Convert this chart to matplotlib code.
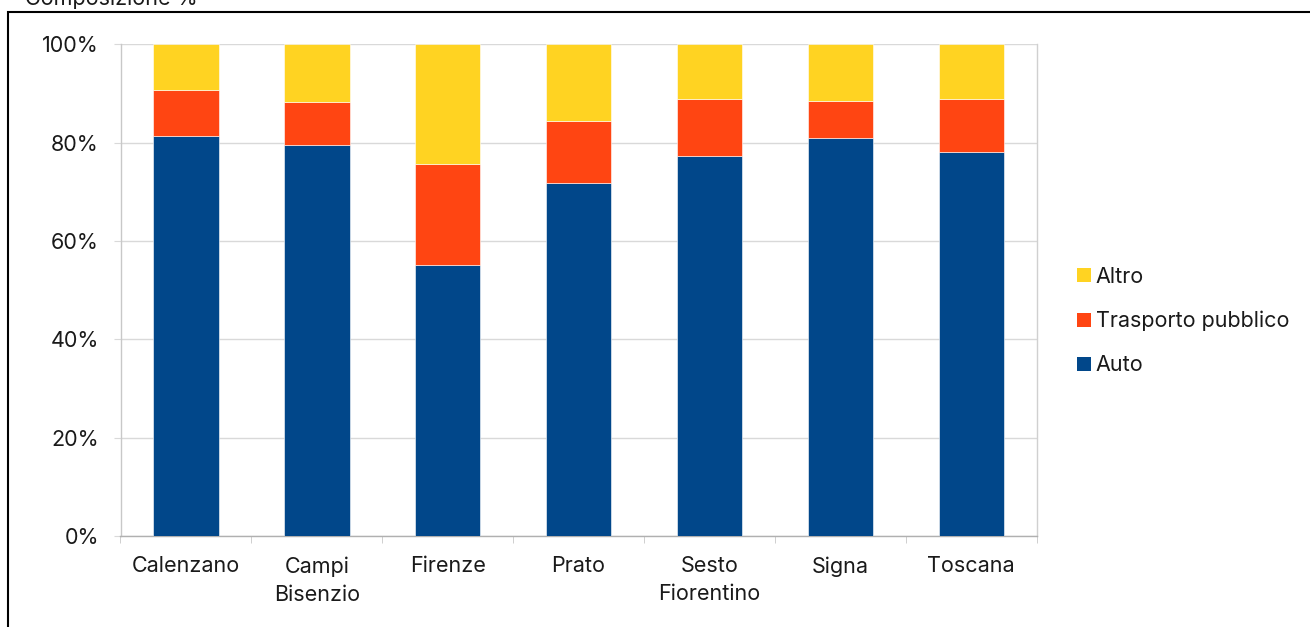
import matplotlib.pyplot as plt
from matplotlib.patches import Patch, Rectangle
import numpy as np

plt.rcParams['font.family'] = ['Inter', 'DejaVu Sans']

comuni = ['Calenzano', 'Campi\nBisenzio', 'Firenze', 'Prato',
          'Sesto\nFiorentino', 'Signa', 'Toscana']
auto = [81.3, 79.6, 55.2, 71.8, 77.2, 80.9, 78.0]
trasporto_pubblico = [9.5, 8.7, 20.5, 12.6, 11.6, 7.6, 10.8]
altro = [9.2, 11.7, 24.3, 15.6, 11.2, 11.5, 11.2]

colori = {'Auto': '#01478A', 'Trasporto pubblico': '#FF4512', 'Altro': '#FFD322'}
W, H = 1310, 627
FS = 15.5

fig = plt.figure(figsize=(W / 100, H / 100), dpi=100)
ax = fig.add_axes([120.5 / W, 1 - 535.9 / H, (1036.7 - 120.5) / W, (535.9 - 44.3) / H])

x = np.arange(len(comuni))
bottom = np.zeros(len(comuni))
for nome, valori in [('Auto', auto), ('Trasporto pubblico', trasporto_pubblico), ('Altro', altro)]:
    ax.bar(x, valori, width=0.5, bottom=bottom, color=colori[nome],
           edgecolor='white', linewidth=0.4, zorder=3)
    bottom += np.array(valori)

ax.set_xlim(-0.5, len(comuni) - 0.5)
ax.set_ylim(0, 100)
ax.set_yticks(np.arange(0, 101, 20))
ax.set_yticklabels([f'{v}%' for v in range(0, 101, 20)])
ax.set_xticks(x)
ax.set_xticklabels(comuni, linespacing=1.5)
ax.set_xticks(np.arange(-0.5, len(comuni), 1), minor=True)

ax.grid(axis='y', color='#D9D9D9', linewidth=1.0, zorder=0)
ax.tick_params(axis='y', length=5, color='#D9D9D9', pad=10.5, labelsize=FS, labelcolor='#1a1a1a')
ax.tick_params(axis='x', which='major', length=0, pad=14.5, labelsize=FS, labelcolor='#1a1a1a')
ax.tick_params(axis='x', which='minor', length=5, color='#C8C8C8')

ax.spines['top'].set_visible(False)
ax.spines['left'].set_color('#C8C8C8')
ax.spines['right'].set_color('#D0D0D0')
ax.spines['bottom'].set_color('#B0B0B0')
for s in ['left', 'right', 'bottom']:
    ax.spines[s].set_linewidth(1.0)

handles = [Patch(facecolor=colori[n], edgecolor='none', label=n)
           for n in ['Altro', 'Trasporto pubblico', 'Auto']]
ax.legend(handles=handles, loc='center left', bbox_to_anchor=(1058 / W, 1 - 321 / H),
          bbox_transform=fig.transFigure, frameon=False, fontsize=FS,
          handlelength=0.64, handleheight=0.64, handletextpad=0.22, labelspacing=1.12,
          labelcolor='#1a1a1a')

fig.text(25 / W, 1 - 5 / H, 'Composizione %', fontsize=FS, color='#1a1a1a',
         ha='left', va='baseline')

# cornice nera attorno al grafico
fig.add_artist(Rectangle((8 / W, -0.1), 1.2, 0.1 + (H - 12) / H,
                         transform=fig.transFigure, fill=False,
                         edgecolor='black', linewidth=1.5))

fig.savefig('out.png', dpi=100)
